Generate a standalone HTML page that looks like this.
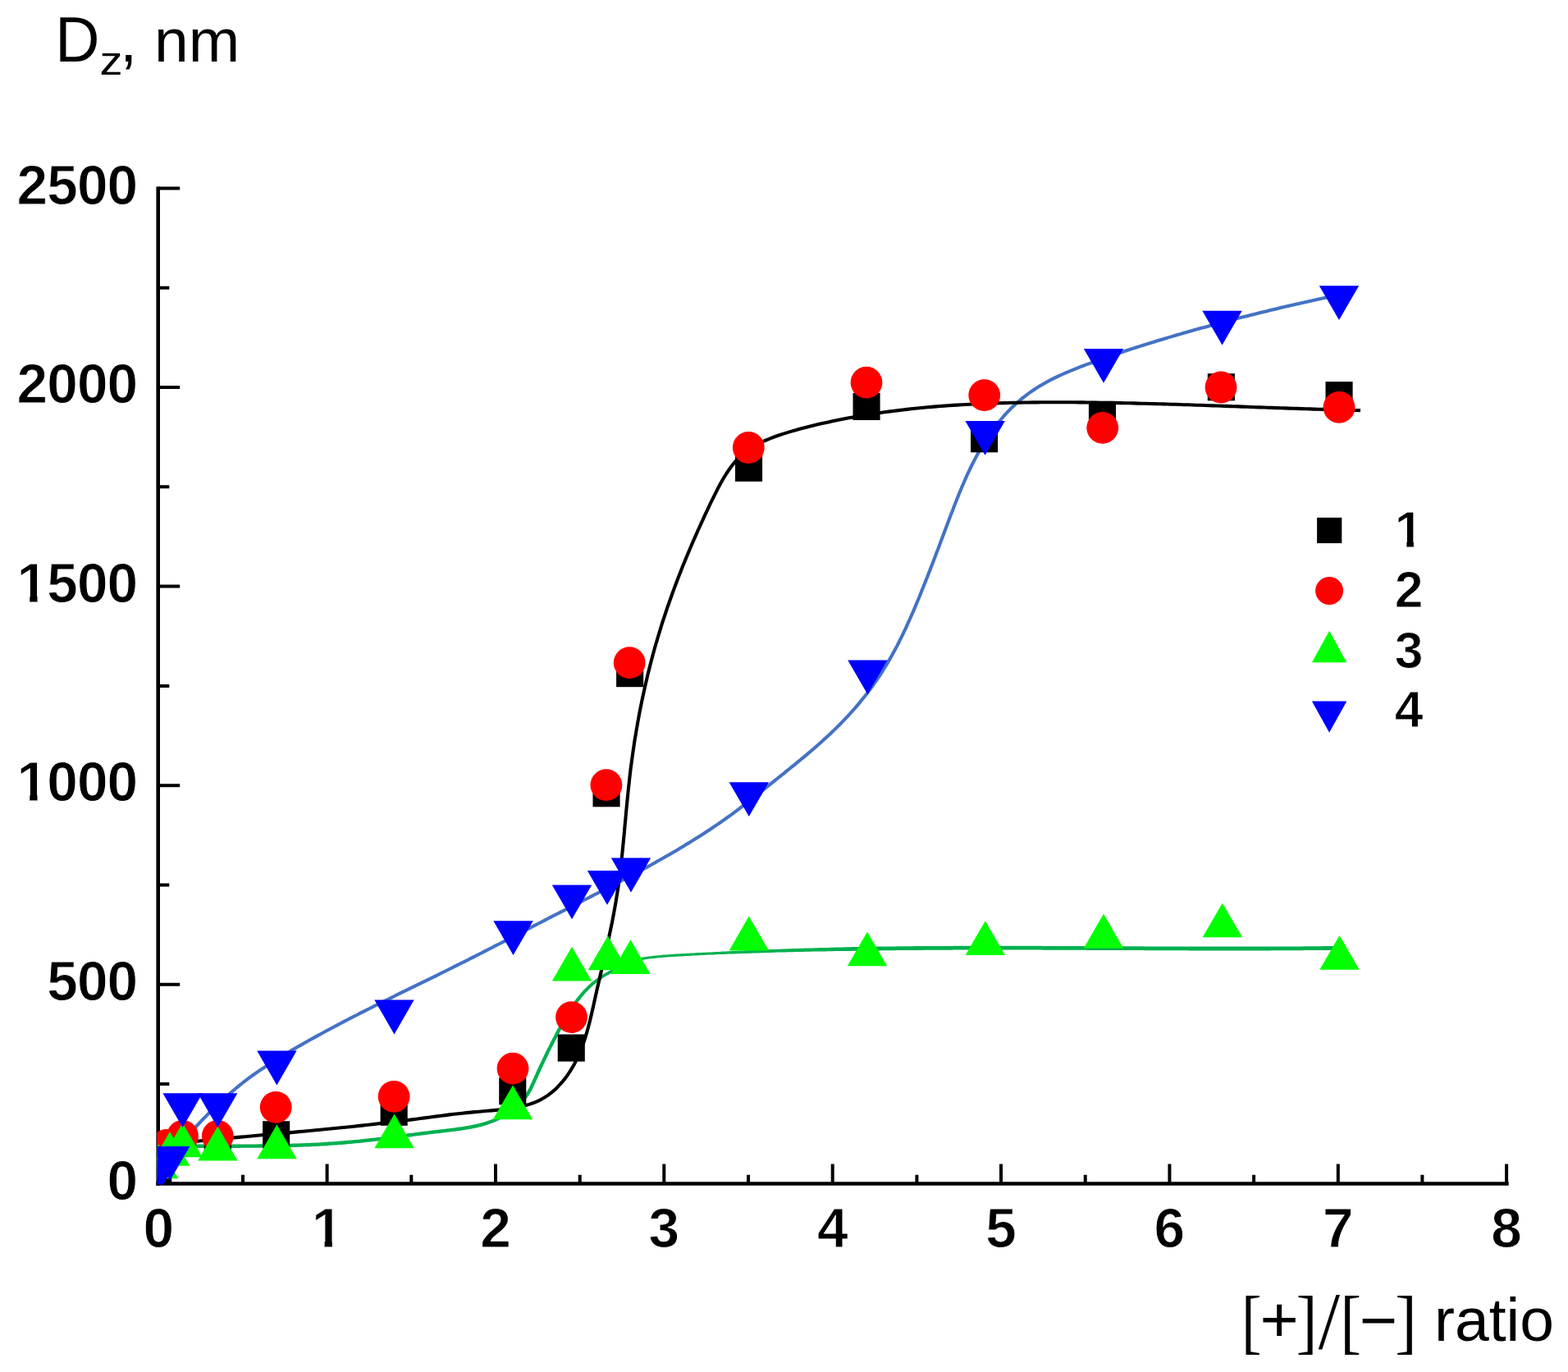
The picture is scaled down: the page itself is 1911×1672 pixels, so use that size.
<!DOCTYPE html>
<html lang="en"><head><meta charset="utf-8"><title>Dz vs [+]/[-] ratio</title>
<style>
html,body{margin:0;padding:0;background:#fff;}
body{width:1911px;height:1672px;overflow:hidden;}
svg{display:block;}
text{font-family:"Liberation Sans",Arial,Helvetica,sans-serif;fill:#000;}
.tk{font-weight:bold;font-size:67.6px;letter-spacing:-0.9px;stroke:#fff;stroke-width:1.0px;}
.lg{font-weight:bold;font-size:62.5px;stroke:#fff;stroke-width:1.0px;}
.ax{font-size:75px;}
.sf{font-family:"Liberation Serif","Times New Roman",serif;font-size:100px;}
.ss{font-size:100px;}
</style></head><body>
<svg xmlns="http://www.w3.org/2000/svg" width="1911" height="1672" viewBox="0 0 1911 1672">
<rect width="1911" height="1672" fill="#fff"/>
<defs><clipPath id="pc"><rect x="191.4" y="0" width="1720" height="1443.6"/></clipPath>
<filter id="soft" filterUnits="userSpaceOnUse" x="0" y="0" width="1911" height="1672" color-interpolation-filters="sRGB"><feGaussianBlur stdDeviation="0.6"/></filter></defs>
<g filter="url(#soft)">
<g stroke="#000" fill="none" stroke-linecap="butt">
<path d="M192.7 227.5V1444.8" stroke-width="4.6"/>
<path d="M190.4 1442.5H1838.7" stroke-width="4.6"/>
<path d="M192.7 1321H206.3M192.7 1199.7H219.2M192.7 1078.5H206.3M192.7 957.2H219.2M192.7 835.9H206.3M192.7 714.6H219.2M192.7 593.3H206.3M192.7 472.1H219.2M192.7 350.8H206.3M192.7 229.5H219.2M296 1442.5V1431.8M398.6 1442.5V1418.6M501.3 1442.5V1431.8M604 1442.5V1418.6M706.7 1442.5V1431.8M809.3 1442.5V1418.6M912 1442.5V1431.8M1014.7 1442.5V1418.6M1117.4 1442.5V1431.8M1220 1442.5V1418.6M1322.7 1442.5V1431.8M1425.4 1442.5V1418.6M1528.1 1442.5V1431.8M1630.8 1442.5V1418.6M1733.4 1442.5V1431.8M1836.1 1442.5V1418.6" stroke-width="4.0"/>
</g>
<defs><clipPath id="nf"><path clip-rule="evenodd" d="M0 0H1911V1672H0ZM22.5 968.7H36.3V978.4H22.5ZM45.5 968.7H58.4V978.4H45.5ZM22.5 726.1H36.3V735.8H22.5ZM45.5 726.1H58.4V735.8H45.5ZM381.9 1512.6H395.6V1522.3H381.9ZM404.8 1512.6H417.7V1522.3H404.8ZM1701.7 659.8H1714.4V669H1701.7ZM1722.9 659.8H1734.8V669H1722.9Z"/></clipPath></defs>
<g clip-path="url(#nf)">
<text class="tk" x="130.6" y="1461.5">0</text>
<text class="tk" x="57.2" y="1218.9">500</text>
<text class="tk" x="20.5" y="976.4">1000</text>
<text class="tk" x="20.5" y="733.8">1500</text>
<text class="tk" x="20.5" y="491.3">2000</text>
<text class="tk" x="20.5" y="248.7">2500</text>
<text class="tk" x="174.5" y="1520.3">0</text>
<text class="tk" x="379.9" y="1520.3">1</text>
<text class="tk" x="585.2" y="1520.3">2</text>
<text class="tk" x="790.6" y="1520.3">3</text>
<text class="tk" x="995.9" y="1520.3">4</text>
<text class="tk" x="1201.3" y="1520.3">5</text>
<text class="tk" x="1406.6" y="1520.3">6</text>
<text class="tk" x="1612" y="1520.3">7</text>
<text class="tk" x="1817.3" y="1520.3">8</text>
<text class="lg" x="1699.8" y="667">1</text>
<text class="lg" x="1699.8" y="739.8">2</text>
<text class="lg" x="1699.8" y="814.3">3</text>
<text class="lg" x="1699.8" y="886">4</text>
</g>
<text class="ax" transform="translate(67.3 74.8) scale(1 1.045)">D</text><text class="ax" x="121.4" y="90.7" font-size="49" textLength="28" lengthAdjust="spacingAndGlyphs" style="font-size:49px">z</text><text class="ax" x="146.3" y="74.8">, nm</text>
<text transform="matrix(0.7391 0 0 0.8659 1513.03 1639.15)" class="sf">[</text><text transform="matrix(0.8104 0 0 0.7816 1535.55 1635.43)" class="ss">+</text><text transform="matrix(0.7682 0 0 0.8659 1579.83 1639.15)" class="sf">]</text><text transform="matrix(0.9429 0 0 1.0015 1606.70 1643.10)" class="sf">/</text><text transform="matrix(0.7652 0 0 0.8659 1633.44 1639.15)" class="sf">[</text><text transform="matrix(0.7939 0 0 0.7939 1656.83 1635.59)" class="ss">&#8722;</text><text transform="matrix(0.7955 0 0 0.8659 1700.32 1639.15)" class="sf">]</text><text class="ax" x="1748.1" y="1633.5">ratio</text>
<g fill="none" stroke-linecap="butt" stroke-linejoin="round">
<path d="M222.1 1391.2L225.2 1387.8L228.3 1384.4L231.4 1381L234.5 1377.7L237.6 1374.3L240.8 1371L243.9 1367.6L247.1 1364.3L250.3 1361.1L253.5 1357.8L256.7 1354.5L260 1351.3L263.2 1348.1L266.5 1345L269.9 1341.8L273.2 1338.8L276.6 1335.7L280 1332.7L283.5 1329.7L287 1326.7L290.5 1323.8L294 1321L297.6 1318.2L301.3 1315.4L304.9 1312.7L308.6 1310L312.3 1307.4L316.1 1304.8L319.9 1302.2L323.7 1299.7L327.5 1297.2L331.4 1294.7L335.2 1292.3L339.1 1289.9L343 1287.5L346.9 1285.1L350.9 1282.8L354.8 1280.4L358.8 1278.1L362.7 1275.8L366.7 1273.6L370.7 1271.3L374.7 1269L378.6 1266.8L382.6 1264.6L386.6 1262.4L390.7 1260.2L394.7 1258L398.7 1255.8L402.7 1253.7L406.8 1251.5L410.8 1249.4L414.8 1247.2L418.9 1245.1L423 1243L427 1240.9L431.1 1238.8L435.2 1236.7L439.2 1234.7L443.3 1232.6L447.4 1230.5L451.5 1228.5L455.5 1226.4L459.6 1224.4L463.7 1222.4L467.8 1220.3L471.9 1218.3L476 1216.3L480.1 1214.2L484.2 1212.2L488.3 1210.2L492.4 1208.2L496.5 1206.2L500.6 1204.2L504.7 1202.2L508.8 1200.1L512.9 1198.1L517.1 1196.1L521.2 1194.1L525.3 1192.1L529.4 1190.1L533.5 1188.1L537.6 1186L541.7 1184L545.8 1182L549.8 1180L553.9 1177.9L558 1175.9L562.1 1173.8L566.2 1171.8L570.3 1169.7L574.3 1167.7L578.4 1165.6L582.5 1163.5L586.6 1161.5L590.6 1159.4L594.7 1157.3L598.8 1155.2L602.8 1153.1L606.9 1151L611 1149L615 1146.9L619.1 1144.8L623.1 1142.7L627.2 1140.6L631.2 1138.5L635.3 1136.4L639.4 1134.3L643.4 1132.2L647.5 1130L651.5 1127.9L655.6 1125.8L659.6 1123.7L663.7 1121.6L667.8 1119.5L671.8 1117.4L675.9 1115.3L680 1113.2L684 1111.1L688.1 1109.1L692.2 1107L696.2 1104.9L700.3 1102.8L704.4 1100.7L708.4 1098.6L712.5 1096.5L716.6 1094.5L720.7 1092.4L724.7 1090.3L728.8 1088.2L732.9 1086.1L736.9 1084L741 1081.9L745.1 1079.8L749.1 1077.7L753.2 1075.6L757.2 1073.4L761.3 1071.3L765.3 1069.2L769.4 1067L773.4 1064.9L777.4 1062.7L781.4 1060.5L785.5 1058.4L789.5 1056.2L793.5 1054L797.5 1051.8L801.4 1049.5L805.4 1047.3L809.4 1045L813.4 1042.8L817.3 1040.5L821.3 1038.2L825.2 1035.9L829.1 1033.5L833 1031.2L836.9 1028.8L840.8 1026.4L844.7 1024L848.6 1021.6L852.4 1019.2L856.3 1016.7L860.1 1014.2L863.9 1011.7L867.7 1009.2L871.5 1006.6L875.3 1004.1L879 1001.5L882.8 998.9L886.5 996.2L890.2 993.6L893.9 990.9L897.6 988.2L901.2 985.4L904.8 982.7L908.5 979.9L912.1 977.1L915.6 974.3L919.2 971.4L922.8 968.5L926.3 965.7L929.9 962.8L933.5 959.9L937 957.1L940.6 954.2L944.2 951.3L947.7 948.5L951.3 945.6L954.9 942.8L958.4 939.9L962 937L965.5 934.2L969.1 931.3L972.6 928.4L976.1 925.5L979.7 922.6L983.2 919.6L986.7 916.7L990.1 913.7L993.6 910.7L997 907.7L1000.4 904.7L1003.8 901.6L1007.2 898.6L1010.6 895.4L1013.9 892.3L1017.2 889.1L1020.4 885.9L1023.7 882.7L1026.9 879.4L1030 876.1L1033.2 872.8L1036.3 869.4L1039.3 866L1042.3 862.6L1045.3 859.1L1048.2 855.6L1051.1 852L1054 848.5L1056.8 844.9L1059.5 841.2L1062.2 837.5L1064.9 833.8L1067.5 830.1L1070.1 826.3L1072.6 822.5L1075.1 818.7L1077.5 814.8L1079.9 811L1082.2 807L1084.5 803.1L1086.8 799.1L1089 795.1L1091.2 791.1L1093.3 787.1L1095.4 783L1097.4 778.9L1099.4 774.8L1101.4 770.7L1103.4 766.6L1105.3 762.4L1107.2 758.2L1109.1 754L1110.9 749.9L1112.8 745.6L1114.6 741.4L1116.3 737.2L1118.1 733L1119.9 728.7L1121.6 724.5L1123.3 720.3L1125 716L1126.7 711.8L1128.4 707.5L1130.1 703.3L1131.7 699L1133.4 694.7L1135 690.5L1136.7 686.2L1138.3 682L1139.9 677.7L1141.5 673.4L1143.2 669.2L1144.8 664.9L1146.4 660.6L1148 656.3L1149.6 652.1L1151.2 647.8L1152.8 643.5L1154.4 639.3L1156 635L1157.6 630.7L1159.2 626.4L1160.9 622.2L1162.5 617.9L1164.2 613.6L1165.8 609.4L1167.5 605.2L1169.2 600.9L1171 596.7L1172.7 592.5L1174.6 588.3L1176.4 584.1L1178.3 579.9L1180.2 575.8L1182.1 571.7L1184.1 567.5L1186.2 563.4L1188.3 559.4L1190.5 555.3L1192.7 551.3L1195 547.3L1197.3 543.3L1199.7 539.4L1202.1 535.5L1204.7 531.7L1207.3 527.9L1209.9 524.1L1212.6 520.4L1215.4 516.8L1218.3 513.2L1221.2 509.7L1224.2 506.2L1227.2 502.9L1230.4 499.6L1233.6 496.3L1236.9 493.2L1240.3 490.2L1243.7 487.2L1247.2 484.3L1250.8 481.6L1254.4 478.9L1258.2 476.3L1261.9 473.7L1265.8 471.3L1269.7 469L1273.6 466.7L1277.6 464.5L1281.6 462.4L1285.7 460.4L1289.9 458.4L1294 456.5L1298.2 454.6L1302.4 452.8L1306.7 451.1L1311 449.3L1315.2 447.7L1319.5 446L1323.8 444.4L1328.1 442.8L1332.5 441.2L1336.8 439.7L1341.1 438.1L1345.4 436.6L1349.7 435.1L1354.1 433.6L1358.4 432.1L1362.7 430.6L1367.1 429.2L1371.4 427.7L1375.8 426.3L1380.1 424.9L1384.5 423.5L1388.8 422.1L1393.2 420.7L1397.5 419.4L1401.9 418L1406.2 416.7L1410.6 415.3L1415 414L1419.3 412.7L1423.7 411.4L1428.1 410.1L1432.5 408.8L1436.9 407.6L1441.2 406.3L1445.6 405L1450 403.8L1454.4 402.5L1458.8 401.3L1463.2 400.1L1467.6 398.9L1472 397.7L1476.5 396.5L1480.9 395.3L1485.3 394.1L1489.7 392.9L1494.1 391.7L1498.5 390.6L1503 389.4L1507.4 388.3L1511.8 387.1L1516.3 386L1520.7 384.9L1525.1 383.8L1529.6 382.7L1534 381.6L1538.4 380.5L1542.9 379.4L1547.3 378.3L1551.8 377.2L1556.2 376.2L1560.7 375.1L1565.1 374.1L1569.6 373L1574 372L1578.5 370.9L1582.9 369.9L1587.4 368.9L1591.8 367.9L1596.3 366.9L1600.8 365.9L1605.2 364.9L1609.7 363.9L1614.2 362.9L1618.6 362L1623.1 361L1627.5 360.1L1632 359.1" stroke="#4472c4" stroke-width="4.1"/>
<path d="M222 1399.2L225.1 1399.1L228.1 1399.1L231.1 1399.1L234.1 1399L237.2 1399L240.2 1399L243.2 1399L246.2 1398.9L249.3 1398.9L252.3 1398.9L255.3 1398.9L258.3 1398.9L261.4 1398.9L264.4 1398.9L267.4 1398.9L270.4 1398.9L273.5 1398.9L276.5 1398.9L279.5 1398.9L282.6 1398.9L285.6 1398.9L288.6 1398.9L291.6 1398.9L294.7 1398.8L297.7 1398.8L300.7 1398.8L303.7 1398.8L306.8 1398.8L309.8 1398.8L312.8 1398.8L315.9 1398.8L318.9 1398.7L321.9 1398.7L324.9 1398.7L328 1398.6L331 1398.6L334 1398.6L337.1 1398.5L340.1 1398.5L343.1 1398.4L346.1 1398.3L349.2 1398.3L352.2 1398.2L355.2 1398.1L358.3 1398L361.3 1397.9L364.3 1397.8L367.4 1397.7L370.4 1397.6L373.4 1397.5L376.5 1397.4L379.5 1397.2L382.5 1397.1L385.5 1396.9L388.6 1396.7L391.6 1396.6L394.6 1396.4L397.7 1396.2L400.7 1396L403.7 1395.8L406.8 1395.6L409.8 1395.4L412.8 1395.1L415.8 1394.9L418.9 1394.7L421.9 1394.4L424.9 1394.1L427.9 1393.9L431 1393.6L434 1393.3L437 1393L440 1392.7L443 1392.4L446 1392.1L449 1391.8L452.1 1391.4L455.1 1391.1L458.1 1390.7L461.1 1390.4L464.1 1390L467.1 1389.7L470.1 1389.3L473.1 1388.9L476.1 1388.5L479.1 1388.2L482.1 1387.8L485.1 1387.4L488.1 1387L491.1 1386.6L494.1 1386.2L497 1385.8L500 1385.4L503 1385L506 1384.6L509 1384.2L512 1383.8L515 1383.4L518 1383.1L521 1382.7L524 1382.3L527 1381.9L530 1381.6L533 1381.2L536.1 1380.9L539.1 1380.5L542.1 1380.2L545.1 1379.8L548.1 1379.5L551.2 1379.1L554.2 1378.7L557.2 1378.3L560.2 1377.9L563.2 1377.5L566.3 1377L569.3 1376.6L572.3 1376L575.2 1375.5L578.2 1374.8L581.2 1374.2L584.1 1373.5L587.1 1372.7L590 1371.9L592.9 1371L595.8 1370.1L598.7 1369.1L601.6 1368L604.4 1366.8L607.2 1365.6L610 1364.3L612.7 1362.8L615.5 1361.3L618.2 1359.7L620.8 1358L623.4 1356.3L626 1354.4L628.5 1352.4L630.9 1350.4L633.2 1348.3L635.5 1346.1L637.6 1343.8L639.7 1341.4L641.6 1339L643.4 1336.4L645.1 1333.8L646.7 1331.2L648.2 1328.4L649.6 1325.7L650.9 1322.9L652.1 1320.2L653.4 1317.4L654.6 1314.6L655.8 1311.9L657.1 1309.1L658.3 1306.4L659.6 1303.7L660.8 1301L662.1 1298.2L663.4 1295.5L664.7 1292.8L666 1290.1L667.3 1287.4L668.6 1284.7L669.9 1282L671.2 1279.3L672.6 1276.6L674 1273.9L675.3 1271.2L676.7 1268.5L678.1 1265.9L679.5 1263.2L680.9 1260.5L682.3 1257.8L683.8 1255.1L685.2 1252.4L686.7 1249.7L688.2 1247.1L689.7 1244.4L691.2 1241.8L692.8 1239.2L694.3 1236.6L695.9 1234L697.6 1231.5L699.2 1229L700.9 1226.5L702.6 1224L704.4 1221.6L706.2 1219.2L708 1216.9L709.9 1214.6L711.8 1212.3L713.7 1210.1L715.7 1207.9L717.8 1205.8L719.9 1203.8L722 1201.8L724.2 1199.8L726.5 1197.9L728.8 1196.1L731.2 1194.4L733.6 1192.7L736.1 1191.1L738.6 1189.5L741.3 1188L744 1186.6L746.7 1185.1L749.4 1183.6L752.1 1182L754.7 1180.4L757.3 1178.9L759.8 1177.4L762.4 1176L765 1174.8L767.7 1173.7L770.4 1172.8L773.3 1171.9L776.1 1171.2L779.1 1170.6L782 1170L785 1169.5L787.9 1169.1L790.9 1168.6L793.9 1168.2L796.9 1167.9L799.9 1167.6L802.9 1167.3L805.9 1167L808.9 1166.7L811.9 1166.5L814.9 1166.3L818 1166.1L821 1165.9L824 1165.7L827 1165.5L830 1165.4L833.1 1165.2L836.1 1165L839.1 1164.9L842.1 1164.7L845.1 1164.5L848.2 1164.4L851.2 1164.2L854.2 1164.1L857.2 1163.9L860.3 1163.8L863.3 1163.6L866.3 1163.5L869.3 1163.4L872.4 1163.2L875.4 1163.1L878.4 1163L881.4 1162.9L884.5 1162.8L887.5 1162.6L890.5 1162.5L893.5 1162.4L896.5 1162.3L899.6 1162.2L902.6 1162.1L905.6 1162L908.6 1161.9L911.7 1161.8L914.7 1161.7L917.7 1161.6L920.7 1161.5L923.8 1161.4L926.8 1161.3L929.8 1161.2L932.8 1161.1L935.9 1161L938.9 1160.9L941.9 1160.8L944.9 1160.7L948 1160.6L951 1160.6L954 1160.5L957 1160.4L960.1 1160.3L963.1 1160.3L966.1 1160.2L969.1 1160.1L972.2 1160L975.2 1160L978.2 1159.9L981.2 1159.8L984.3 1159.8L987.3 1159.7L990.3 1159.6L993.3 1159.6L996.4 1159.5L999.4 1159.5L1002.4 1159.4L1005.4 1159.4L1008.5 1159.3L1011.5 1159.2L1014.5 1159.2L1017.5 1159.1L1020.6 1159.1L1023.6 1159.1L1026.6 1159L1029.6 1159L1032.7 1158.9L1035.7 1158.9L1038.7 1158.8L1041.7 1158.8L1044.8 1158.8L1047.8 1158.7L1050.8 1158.7L1053.8 1158.6L1056.9 1158.6L1059.9 1158.6L1062.9 1158.5L1065.9 1158.5L1069 1158.4L1072 1158.4L1075 1158.3L1078 1158.3L1081.1 1158.3L1084.1 1158.2L1087.1 1158.2L1090.2 1158.2L1093.2 1158.1L1096.2 1158.1L1099.2 1158.1L1102.3 1158L1105.3 1158L1108.3 1158L1111.3 1158L1114.4 1157.9L1117.4 1157.9L1120.4 1157.9L1123.4 1157.9L1126.5 1157.8L1129.5 1157.8L1132.5 1157.8L1135.5 1157.8L1138.6 1157.8L1141.6 1157.7L1144.6 1157.7L1147.6 1157.7L1150.7 1157.7L1153.7 1157.7L1156.7 1157.7L1159.8 1157.7L1162.8 1157.6L1165.8 1157.6L1168.8 1157.6L1171.9 1157.6L1174.9 1157.6L1177.9 1157.6L1180.9 1157.6L1184 1157.6L1187 1157.6L1190 1157.6L1193 1157.6L1196.1 1157.6L1199.1 1157.6L1202.1 1157.6L1205.2 1157.6L1208.2 1157.6L1211.2 1157.6L1214.2 1157.6L1217.3 1157.6L1220.3 1157.6L1223.3 1157.6L1226.3 1157.6L1229.4 1157.6L1232.4 1157.6L1235.4 1157.6L1238.5 1157.6L1241.5 1157.6L1244.5 1157.6L1247.5 1157.6L1250.6 1157.6L1253.6 1157.6L1256.6 1157.6L1259.6 1157.6L1262.7 1157.6L1265.7 1157.6L1268.7 1157.6L1271.8 1157.7L1274.8 1157.7L1277.8 1157.7L1280.8 1157.7L1283.9 1157.7L1286.9 1157.7L1289.9 1157.7L1292.9 1157.7L1296 1157.7L1299 1157.7L1302 1157.8L1305.1 1157.8L1308.1 1157.8L1311.1 1157.8L1314.1 1157.8L1317.2 1157.8L1320.2 1157.8L1323.2 1157.8L1326.2 1157.9L1329.3 1157.9L1332.3 1157.9L1335.3 1157.9L1338.4 1157.9L1341.4 1157.9L1344.4 1157.9L1347.4 1157.9L1350.5 1158L1353.5 1158L1356.5 1158L1359.5 1158L1362.6 1158L1365.6 1158L1368.6 1158L1371.7 1158.1L1374.7 1158.1L1377.7 1158.1L1380.7 1158.1L1383.8 1158.1L1386.8 1158.1L1389.8 1158.1L1392.9 1158.1L1395.9 1158.2L1398.9 1158.2L1401.9 1158.2L1405 1158.2L1408 1158.2L1411 1158.2L1414 1158.2L1417.1 1158.2L1420.1 1158.3L1423.1 1158.3L1426.2 1158.3L1429.2 1158.3L1432.2 1158.3L1435.2 1158.3L1438.3 1158.3L1441.3 1158.3L1444.3 1158.3L1447.3 1158.3L1450.4 1158.4L1453.4 1158.4L1456.4 1158.4L1459.5 1158.4L1462.5 1158.4L1465.5 1158.4L1468.5 1158.4L1471.6 1158.4L1474.6 1158.4L1477.6 1158.4L1480.7 1158.4L1483.7 1158.4L1486.7 1158.4L1489.7 1158.4L1492.8 1158.4L1495.8 1158.4L1498.8 1158.4L1501.8 1158.4L1504.9 1158.4L1507.9 1158.4L1510.9 1158.4L1514 1158.4L1517 1158.4L1520 1158.4L1523 1158.4L1526.1 1158.4L1529.1 1158.4L1532.1 1158.4L1535.1 1158.4L1538.2 1158.4L1541.2 1158.4L1544.2 1158.4L1547.3 1158.4L1550.3 1158.3L1553.3 1158.3L1556.3 1158.3L1559.4 1158.3L1562.4 1158.3L1565.4 1158.3L1568.4 1158.3L1571.5 1158.3L1574.5 1158.2L1577.5 1158.2L1580.6 1158.2L1583.6 1158.2L1586.6 1158.2L1589.6 1158.1L1592.7 1158.1L1595.7 1158.1L1598.7 1158.1L1601.7 1158L1604.8 1158L1607.8 1158L1610.8 1158L1613.9 1157.9L1616.9 1157.9L1619.9 1157.9L1622.9 1157.8L1626 1157.8L1629 1157.8L1632 1157.7L1632 1152.9L1628.9 1153L1625.9 1153L1622.9 1153L1619.9 1153.1L1616.8 1153.1L1613.8 1153.1L1610.8 1153.2L1607.8 1153.2L1604.7 1153.2L1601.7 1153.2L1598.7 1153.3L1595.7 1153.3L1592.6 1153.3L1589.6 1153.3L1586.6 1153.4L1583.6 1153.4L1580.5 1153.4L1577.5 1153.4L1574.5 1153.4L1571.5 1153.5L1568.4 1153.5L1565.4 1153.5L1562.4 1153.5L1559.3 1153.5L1556.3 1153.5L1553.3 1153.5L1550.3 1153.5L1547.2 1153.6L1544.2 1153.6L1541.2 1153.6L1538.2 1153.6L1535.1 1153.6L1532.1 1153.6L1529.1 1153.6L1526.1 1153.6L1523 1153.6L1520 1153.6L1517 1153.6L1514 1153.6L1510.9 1153.6L1507.9 1153.6L1504.9 1153.6L1501.8 1153.6L1498.8 1153.6L1495.8 1153.6L1492.8 1153.6L1489.7 1153.6L1486.7 1153.6L1483.7 1153.6L1480.7 1153.6L1477.6 1153.6L1474.6 1153.6L1471.6 1153.6L1468.6 1153.6L1465.5 1153.6L1462.5 1153.6L1459.5 1153.6L1456.4 1153.6L1453.4 1153.6L1450.4 1153.6L1447.4 1153.5L1444.3 1153.5L1441.3 1153.5L1438.3 1153.5L1435.3 1153.5L1432.2 1153.5L1429.2 1153.5L1426.2 1153.5L1423.1 1153.5L1420.1 1153.5L1417.1 1153.4L1414.1 1153.4L1411 1153.4L1408 1153.4L1405 1153.4L1402 1153.4L1398.9 1153.4L1395.9 1153.4L1392.9 1153.3L1389.8 1153.3L1386.8 1153.3L1383.8 1153.3L1380.8 1153.3L1377.7 1153.3L1374.7 1153.3L1371.7 1153.3L1368.7 1153.2L1365.6 1153.2L1362.6 1153.2L1359.6 1153.2L1356.5 1153.2L1353.5 1153.2L1350.5 1153.2L1347.5 1153.1L1344.4 1153.1L1341.4 1153.1L1338.4 1153.1L1335.3 1153.1L1332.3 1153.1L1329.3 1153.1L1326.3 1153.1L1323.2 1153L1320.2 1153L1317.2 1153L1314.2 1153L1311.1 1153L1308.1 1153L1305.1 1153L1302 1153L1299 1152.9L1296 1152.9L1293 1152.9L1289.9 1152.9L1286.9 1152.9L1283.9 1152.9L1280.8 1152.9L1277.8 1152.9L1274.8 1152.9L1271.8 1152.9L1268.7 1152.8L1265.7 1152.8L1262.7 1152.8L1259.7 1152.8L1256.6 1152.8L1253.6 1152.8L1250.6 1152.8L1247.5 1152.8L1244.5 1152.8L1241.5 1152.8L1238.5 1152.8L1235.4 1152.8L1232.4 1152.8L1229.4 1152.8L1226.3 1152.8L1223.3 1152.8L1220.3 1152.8L1217.3 1152.8L1214.2 1152.8L1211.2 1152.8L1208.2 1152.8L1205.2 1152.8L1202.1 1152.8L1199.1 1152.8L1196.1 1152.8L1193 1152.8L1190 1152.8L1187 1152.8L1184 1152.8L1180.9 1152.8L1177.9 1152.8L1174.9 1152.8L1171.8 1152.8L1168.8 1152.8L1165.8 1152.8L1162.8 1152.8L1159.7 1152.9L1156.7 1152.9L1153.7 1152.9L1150.7 1152.9L1147.6 1152.9L1144.6 1152.9L1141.6 1152.9L1138.5 1153L1135.5 1153L1132.5 1153L1129.5 1153L1126.4 1153L1123.4 1153.1L1120.4 1153.1L1117.3 1153.1L1114.3 1153.1L1111.3 1153.2L1108.3 1153.2L1105.2 1153.2L1102.2 1153.2L1099.2 1153.3L1096.2 1153.3L1093.1 1153.3L1090.1 1153.4L1087.1 1153.4L1084 1153.4L1081 1153.5L1078 1153.5L1075 1153.5L1071.9 1153.6L1068.9 1153.6L1065.9 1153.7L1062.9 1153.7L1059.8 1153.8L1056.8 1153.8L1053.8 1153.8L1050.7 1153.9L1047.7 1153.9L1044.7 1154L1041.7 1154.1L1038.6 1154.1L1035.6 1154.2L1032.6 1154.3L1029.6 1154.3L1026.5 1154.4L1023.5 1154.5L1020.5 1154.6L1017.4 1154.6L1014.4 1154.7L1011.4 1154.8L1008.4 1154.9L1005.3 1155L1002.3 1155L999.3 1155.1L996.3 1155.2L993.2 1155.3L990.2 1155.4L987.2 1155.5L984.2 1155.6L981.1 1155.6L978.1 1155.7L975.1 1155.8L972 1155.9L969 1156L966 1156.1L963 1156.2L959.9 1156.3L956.9 1156.4L953.9 1156.5L950.9 1156.7L947.8 1156.8L944.8 1156.9L941.8 1157L938.8 1157.1L935.7 1157.2L932.7 1157.3L929.7 1157.4L926.7 1157.6L923.6 1157.7L920.6 1157.8L917.6 1157.9L914.6 1158.1L911.5 1158.2L908.5 1158.3L905.5 1158.5L902.5 1158.6L899.4 1158.7L896.4 1158.9L893.4 1159L890.4 1159.2L887.3 1159.3L884.3 1159.4L881.3 1159.6L878.3 1159.7L875.2 1159.9L872.2 1160L869.2 1160.2L866.2 1160.4L863.1 1160.5L860.1 1160.7L857.1 1160.8L854.1 1161L851 1161.1L848 1161.3L845 1161.4L842 1161.6L838.9 1161.8L835.9 1161.9L832.9 1162.1L829.9 1162.3L826.8 1162.4L823.8 1162.6L820.8 1162.8L817.8 1163L814.7 1163.2L811.7 1163.4L808.7 1163.6L805.6 1163.9L802.6 1164.2L799.6 1164.5L796.6 1164.8L793.5 1165.2L790.5 1165.5L787.5 1166L784.5 1166.4L781.5 1166.9L778.4 1167.4L775.4 1168L772.4 1168.7L769.5 1169.5L766.5 1170.5L763.7 1171.6L760.9 1172.9L758.2 1174.3L755.5 1175.8L752.8 1177.3L750.2 1178.9L747.6 1180.4L745 1181.9L742.2 1183.3L739.5 1184.7L736.7 1186.2L734.1 1187.8L731.4 1189.5L728.9 1191.2L726.4 1193L724 1194.9L721.6 1196.8L719.3 1198.8L717.1 1200.8L714.9 1202.9L712.8 1205.1L710.7 1207.3L708.6 1209.6L706.6 1211.9L704.7 1214.2L702.8 1216.6L701 1219.1L699.1 1221.5L697.4 1224L695.7 1226.6L694 1229.1L692.3 1231.7L690.7 1234.3L689.1 1237L687.5 1239.6L686 1242.3L684.4 1245L682.9 1247.7L681.5 1250.4L680 1253.1L678.5 1255.8L677.1 1258.5L675.7 1261.2L674.3 1263.9L672.9 1266.6L671.5 1269.3L670.1 1272L668.8 1274.7L667.4 1277.4L666 1280.1L664.7 1282.8L663.4 1285.5L662.1 1288.2L660.8 1291L659.5 1293.7L658.2 1296.4L656.9 1299.1L655.6 1301.9L654.4 1304.6L653.1 1307.4L651.9 1310.1L650.7 1312.9L649.4 1315.7L648.2 1318.4L647 1321.1L645.7 1323.8L644.4 1326.4L643 1329L641.5 1331.5L639.9 1334L638.2 1336.4L636.4 1338.7L634.4 1340.9L632.4 1343.1L630.3 1345.1L628 1347.2L625.7 1349.1L623.4 1351L620.9 1352.7L618.5 1354.4L615.9 1356L613.3 1357.6L610.7 1359L608.1 1360.4L605.4 1361.6L602.7 1362.8L600 1364L597.2 1365L594.4 1366L591.6 1366.9L588.8 1367.8L586 1368.5L583.1 1369.3L580.2 1370L577.3 1370.6L574.4 1371.2L571.5 1371.8L568.5 1372.3L565.6 1372.8L562.6 1373.2L559.6 1373.6L556.6 1374L553.6 1374.4L550.6 1374.8L547.6 1375.2L544.6 1375.5L541.6 1375.9L538.6 1376.2L535.6 1376.5L532.5 1376.9L529.5 1377.3L526.5 1377.6L523.5 1378L520.5 1378.4L517.5 1378.7L514.5 1379.1L511.5 1379.5L508.5 1379.9L505.5 1380.3L502.5 1380.7L499.5 1381.1L496.5 1381.5L493.5 1381.9L490.5 1382.3L487.5 1382.7L484.5 1383L481.5 1383.4L478.5 1383.8L475.5 1384.2L472.5 1384.6L469.5 1385L466.6 1385.3L463.6 1385.7L460.6 1386.1L457.6 1386.4L454.6 1386.7L451.6 1387.1L448.6 1387.4L445.6 1387.7L442.6 1388.1L439.6 1388.4L436.6 1388.7L433.6 1388.9L430.5 1389.2L427.5 1389.5L424.5 1389.8L421.5 1390L418.5 1390.3L415.5 1390.5L412.5 1390.8L409.5 1391L406.4 1391.2L403.4 1391.4L400.4 1391.6L397.4 1391.8L394.4 1392L391.4 1392.2L388.3 1392.4L385.3 1392.5L382.3 1392.7L379.3 1392.8L376.3 1393L373.2 1393.1L370.2 1393.2L367.2 1393.3L364.2 1393.4L361.2 1393.5L358.1 1393.6L355.1 1393.7L352.1 1393.8L349.1 1393.9L346.1 1393.9L343 1394L340 1394.1L337 1394.1L334 1394.2L330.9 1394.2L327.9 1394.2L324.9 1394.3L321.9 1394.3L318.8 1394.3L315.8 1394.3L312.8 1394.4L309.8 1394.4L306.8 1394.4L303.7 1394.4L300.7 1394.4L297.7 1394.4L294.7 1394.4L291.6 1394.4L288.6 1394.4L285.6 1394.4L282.5 1394.4L279.5 1394.4L276.5 1394.4L273.5 1394.5L270.4 1394.5L267.4 1394.5L264.4 1394.5L261.4 1394.5L258.3 1394.5L255.3 1394.5L252.3 1394.5L249.2 1394.5L246.2 1394.5L243.2 1394.5L240.1 1394.6L237.1 1394.6L234.1 1394.6L231.1 1394.6L228 1394.7L225 1394.7L222 1394.8Z" fill="#00b050" stroke="none"/>
<path d="M222 1392.5L227.1 1392L232.2 1391.5L237.3 1391L242.4 1390.5L247.5 1390L252.6 1389.5L257.6 1389L262.7 1388.5L267.8 1388L272.9 1387.5L278 1387.1L283.1 1386.6L288.2 1386.1L293.3 1385.6L298.4 1385.2L303.5 1384.7L308.6 1384.3L313.8 1383.8L318.9 1383.3L324 1382.9L329.1 1382.4L334.2 1381.9L339.3 1381.5L344.4 1381L349.5 1380.6L354.6 1380.1L359.7 1379.6L364.8 1379.1L369.9 1378.7L375 1378.2L380.1 1377.7L385.2 1377.2L390.4 1376.7L395.5 1376.3L400.6 1375.8L405.7 1375.3L410.8 1374.8L415.9 1374.2L421 1373.7L426.1 1373.2L431.2 1372.7L436.2 1372.1L441.3 1371.6L446.4 1371L451.5 1370.5L456.6 1369.9L461.7 1369.3L466.8 1368.7L471.9 1368.1L476.9 1367.5L482 1366.9L487.1 1366.3L492.1 1365.7L497.2 1365L502.3 1364.4L507.3 1363.7L512.4 1363L517.5 1362.4L522.5 1361.7L527.6 1361L532.7 1360.4L537.7 1359.7L542.8 1359.1L547.9 1358.4L553 1357.8L558.1 1357.2L563.2 1356.7L568.3 1356.1L573.4 1355.6L578.5 1355.1L583.7 1354.7L588.8 1354.2L594 1353.8L599.1 1353.4L604.3 1352.9L609.4 1352.4L614.5 1351.8L619.7 1351.1L624.8 1350.4L629.9 1349.5L634.9 1348.5L639.9 1347.3L644.8 1345.9L649.6 1344.3L654.2 1342.4L658.7 1340.3L663.1 1337.8L667.3 1335.1L671.3 1332.1L675.2 1328.9L678.9 1325.4L682.4 1321.7L685.8 1317.9L689 1313.9L692 1309.7L694.9 1305.4L697.6 1300.9L700.1 1296.4L702.5 1291.9L704.7 1287.2L706.7 1282.5L708.7 1277.8L710.4 1273L712.1 1268.2L713.7 1263.3L715.1 1258.4L716.5 1253.5L717.8 1248.5L719.1 1243.6L720.3 1238.6L721.4 1233.6L722.6 1228.6L723.7 1223.5L724.8 1218.5L725.9 1213.5L727 1208.5L728.2 1203.5L729.3 1198.5L730.5 1193.5L731.6 1188.5L732.8 1183.5L734 1178.5L735.1 1173.5L736.3 1168.5L737.4 1163.5L738.5 1158.5L739.7 1153.5L740.8 1148.5L741.9 1143.5L742.9 1138.5L744 1133.5L745 1128.5L746.1 1123.5L747 1118.5L748 1113.5L748.9 1108.4L749.8 1103.4L750.7 1098.4L751.5 1093.3L752.3 1088.3L753.1 1083.2L753.8 1078.2L754.5 1073.1L755.2 1068.1L755.8 1063L756.4 1057.9L757 1052.8L757.5 1047.7L758.1 1042.6L758.6 1037.6L759.1 1032.5L759.6 1027.4L760.1 1022.3L760.6 1017.2L761.1 1012.1L761.5 1006.9L762 1001.8L762.5 996.7L762.9 991.6L763.4 986.5L763.9 981.4L764.4 976.3L764.9 971.2L765.4 966.1L765.9 961L766.5 955.9L767 950.8L767.6 945.7L768.2 940.6L768.8 935.5L769.5 930.4L770.2 925.3L770.9 920.2L771.6 915.2L772.4 910.1L773.1 905L773.9 899.9L774.8 894.9L775.6 889.8L776.5 884.8L777.4 879.7L778.3 874.7L779.2 869.6L780.2 864.6L781.2 859.6L782.2 854.6L783.3 849.5L784.4 844.5L785.5 839.5L786.6 834.5L787.8 829.5L788.9 824.6L790.1 819.6L791.4 814.6L792.6 809.7L793.9 804.7L795.2 799.8L796.6 794.8L797.9 789.9L799.3 785L800.8 780.1L802.2 775.2L803.7 770.3L805.2 765.4L806.7 760.5L808.3 755.7L809.9 750.8L811.5 746L813.1 741.1L814.8 736.3L816.5 731.5L818.2 726.7L819.9 721.9L821.7 717.1L823.5 712.3L825.3 707.5L827.1 702.7L829 698L830.8 693.2L832.7 688.5L834.7 683.7L836.6 679L838.6 674.2L840.6 669.5L842.6 664.8L844.6 660.1L846.7 655.4L848.8 650.7L850.8 646L853 641.3L855.1 636.6L857.3 631.9L859.4 627.2L861.6 622.6L863.8 617.9L866 613.2L868.3 608.6L870.6 603.9L872.9 599.3L875.2 594.7L877.6 590.2L880.1 585.7L882.7 581.3L885.4 577L888.2 572.8L891.1 568.7L894.2 564.8L897.4 561.1L900.9 557.5L904.5 554.1L908.3 550.9L912.3 547.9L916.5 545.1L920.9 542.5L925.5 540.1L930.2 537.9L935 535.8L939.9 533.9L944.8 532L949.8 530.3L954.7 528.6L959.7 527.1L964.6 525.6L969.6 524.2L974.5 522.8L979.5 521.5L984.5 520.2L989.4 519L994.4 517.8L999.4 516.6L1004.4 515.5L1009.4 514.4L1014.4 513.3L1019.4 512.3L1024.4 511.3L1029.4 510.3L1034.4 509.3L1039.4 508.4L1044.5 507.5L1049.5 506.6L1054.5 505.8L1059.6 505L1064.6 504.2L1069.7 503.5L1074.7 502.7L1079.8 502L1084.9 501.4L1089.9 500.7L1095 500.1L1100.1 499.5L1105.2 498.9L1110.2 498.3L1115.3 497.8L1120.4 497.3L1125.5 496.8L1130.6 496.3L1135.7 495.9L1140.8 495.4L1145.9 495L1151 494.6L1156.1 494.3L1161.2 493.9L1166.3 493.6L1171.5 493.3L1176.6 493L1181.7 492.7L1186.8 492.5L1191.9 492.2L1197.1 492L1202.2 491.8L1207.3 491.6L1212.4 491.4L1217.6 491.3L1222.7 491.1L1227.8 491L1232.9 490.8L1238.1 490.7L1243.2 490.6L1248.3 490.5L1253.5 490.5L1258.6 490.4L1263.7 490.4L1268.9 490.3L1274 490.3L1279.1 490.3L1284.2 490.3L1289.4 490.3L1294.5 490.3L1299.6 490.3L1304.8 490.3L1309.9 490.3L1315 490.4L1320.1 490.4L1325.3 490.5L1330.4 490.5L1335.5 490.6L1340.6 490.7L1345.8 490.7L1350.9 490.8L1356 490.9L1361.1 491L1366.2 491.1L1371.4 491.2L1376.5 491.3L1381.6 491.4L1386.7 491.6L1391.8 491.7L1396.9 491.8L1402.1 492L1407.2 492.1L1412.3 492.2L1417.4 492.4L1422.5 492.5L1427.6 492.7L1432.8 492.8L1437.9 493L1443 493.2L1448.1 493.3L1453.2 493.5L1458.3 493.7L1463.4 493.8L1468.6 494L1473.7 494.2L1478.8 494.4L1483.9 494.5L1489 494.7L1494.1 494.9L1499.2 495.1L1504.4 495.3L1509.5 495.4L1514.6 495.6L1519.7 495.8L1524.8 496L1529.9 496.2L1535.1 496.4L1540.2 496.5L1545.3 496.7L1550.4 496.9L1555.5 497.1L1560.7 497.3L1565.8 497.4L1570.9 497.6L1576 497.8L1581.1 497.9L1586.3 498.1L1591.4 498.3L1596.5 498.4L1601.6 498.6L1606.8 498.7L1611.9 498.9L1617 499L1622.1 499.2L1627.3 499.3L1632.4 499.5L1637.5 499.6L1642.6 499.7L1647.8 499.9L1652.9 500L1658 500.1" stroke="#000" stroke-width="4.1"/>
</g>
<g clip-path="url(#pc)">
<g fill="#000">
<rect x="176.2" y="1425.8" width="33.1" height="33.1"/>
<rect x="205.9" y="1376.5" width="33.1" height="33.1"/>
<rect x="248.8" y="1376.5" width="33.1" height="33.1"/>
<rect x="320.1" y="1366.2" width="33.1" height="33.1"/>
<rect x="463.6" y="1338.7" width="33.1" height="33.1"/>
<rect x="608.2" y="1313.2" width="33.1" height="33.1"/>
<rect x="679.7" y="1260.5" width="33.1" height="33.1"/>
<rect x="722.5" y="950.2" width="33.1" height="33.1"/>
<rect x="751.1" y="804.1" width="33.1" height="33.1"/>
<rect x="896" y="553.7" width="33.1" height="33.1"/>
<rect x="1039.5" y="478.9" width="33.1" height="33.1"/>
<rect x="1183" y="518.2" width="33.1" height="33.1"/>
<rect x="1326.9" y="488.9" width="33.1" height="33.1"/>
<rect x="1471.8" y="455.2" width="33.1" height="33.1"/>
<rect x="1615.5" y="465.1" width="33.1" height="33.1"/>
</g>
<g fill="#f00">
<circle cx="203" cy="1395.5" r="19.4"/>
<circle cx="222.5" cy="1384.5" r="19.4"/>
<circle cx="265.3" cy="1384.5" r="19.4"/>
<circle cx="336.2" cy="1349.3" r="19.4"/>
<circle cx="480.1" cy="1336.3" r="19.4"/>
<circle cx="625" cy="1302.1" r="19.4"/>
<circle cx="696.5" cy="1239.6" r="19.4"/>
<circle cx="738.9" cy="956.7" r="19.4"/>
<circle cx="767.2" cy="807.7" r="19.4"/>
<circle cx="912.3" cy="545.5" r="19.4"/>
<circle cx="1056" cy="466.2" r="19.4"/>
<circle cx="1199.7" cy="481.6" r="19.4"/>
<circle cx="1343.7" cy="521.4" r="19.4"/>
<circle cx="1488" cy="472" r="19.4"/>
<circle cx="1632" cy="496.3" r="19.4"/>
</g>
<g fill="#0f0">
<path d="M193.2 1394.5L217.4 1436.3H169Z"/>
<path d="M207 1379L231.2 1420.8H182.8Z"/>
<path d="M222.5 1368.5L246.7 1410.3H198.3Z"/>
<path d="M265.3 1372.6L289.5 1414.4H241.1Z"/>
<path d="M337.4 1370.5L361.6 1412.3H313.2Z"/>
<path d="M480.6 1357.5L504.8 1399.3H456.4Z"/>
<path d="M625 1322.4L649.2 1364.2H600.8Z"/>
<path d="M697 1153.7L721.2 1195.5H672.8Z"/>
<path d="M740.8 1140.4L765 1182.2H716.6Z"/>
<path d="M768.5 1145.2L792.7 1187H744.3Z"/>
<path d="M912.8 1116.6L937 1158.4H888.6Z"/>
<path d="M1057 1135.5L1081.2 1177.3H1032.8Z"/>
<path d="M1200.8 1122.3L1225 1164.1H1176.6Z"/>
<path d="M1345 1113.7L1369.2 1155.5H1320.8Z"/>
<path d="M1489.8 1100.4L1514 1142.2H1465.6Z"/>
<path d="M1632.5 1140L1656.7 1181.8H1608.3Z"/>
</g>
<g fill="#00f">
<path d="M168.4 1413H216.8L192.6 1454.8Z"/>
<path d="M183 1397H231.4L207.2 1438.8Z"/>
<path d="M198.4 1332.3H246.8L222.6 1374.1Z"/>
<path d="M241 1332.3H289.4L265.2 1374.1Z"/>
<path d="M313.2 1280.6H361.6L337.4 1322.4Z"/>
<path d="M456.3 1218.6H504.7L480.5 1260.4Z"/>
<path d="M601.3 1122.3H649.7L625.5 1164.1Z"/>
<path d="M672.8 1078.4H721.2L697 1120.2Z"/>
<path d="M715.8 1061H764.2L740 1102.8Z"/>
<path d="M744.8 1045.6H793.2L769 1087.4Z"/>
<path d="M888.6 953.3H937L912.8 995.1Z"/>
<path d="M1033.2 804.4H1081.6L1057.4 846.2Z"/>
<path d="M1176.4 513H1224.8L1200.6 554.8Z"/>
<path d="M1320.8 425H1369.2L1345 466.8Z"/>
<path d="M1465.3 378.8H1513.7L1489.5 420.6Z"/>
<path d="M1607.8 348.3H1656.2L1632 390.1Z"/>
</g>
</g>
<rect x="1605.1" y="630.8" width="30.2" height="31.2" fill="#000"/>
<circle cx="1620.1" cy="720" r="17" fill="#f00"/>
<path d="M1620.1 768.7L1641.3 807.2H1598.9Z" fill="#0f0"/>
<path d="M1598.9 854.6H1641.3L1620.1 892.7Z" fill="#00f"/>
</g>
</svg>
</body></html>
